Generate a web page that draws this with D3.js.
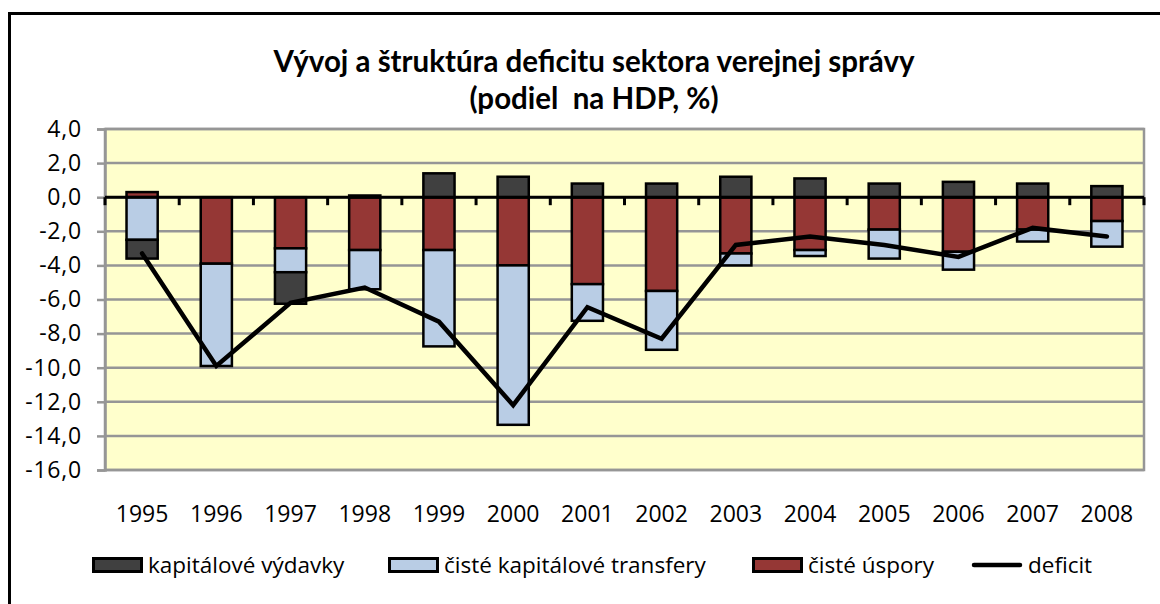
<!DOCTYPE html>
<html>
<head>
<meta charset="utf-8">
<script src="https://cdn.jsdelivr.net/npm/d3@7"></script>
<style>
  body { margin: 0; background: #fff; }
  svg { display: block; }
  text { font-family: "Open Sans", Lato, sans-serif; fill: #000; }
  .title { font-family: Lato, sans-serif; font-weight: bold; font-size: 29.5px; }
  .tick-label { font-size: 23px; }
  .legend-text { font-size: 22.5px; }
</style>
</head>
<body>
<div id="container"></div>
<script>
const years = ['1995','1996','1997','1998','1999','2000','2001','2002','2003','2004','2005','2006','2007','2008'];
const kapitaloveVydavky = [-1.1, 0.0, -1.85, 0.1, 1.4, 1.2, 0.8, 0.8, 1.2, 1.1, 0.8, 0.9, 0.8, 0.65];
const cisteTransfery = [-2.5, -6.0, -1.4, -2.3, -5.65, -9.35, -2.15, -3.45, -0.7, -0.35, -1.7, -1.05, -0.7, -1.5];
const cisteUspory = [0.3, -3.9, -3.0, -3.1, -3.1, -4.0, -5.1, -5.5, -3.3, -3.1, -1.9, -3.2, -1.9, -1.4];
const deficit = [-3.3, -9.9, -6.2, -5.3, -7.3, -12.2, -6.45, -8.3, -2.8, -2.3, -2.8, -3.5, -1.8, -2.3];
const yTicks = [4, 2, 0, -2, -4, -6, -8, -10, -12, -14, -16];

const seriesNames = {
  vydavky: 'kapitálové výdavky',
  transfery: 'čisté kapitálové transfery',
  uspory: 'čisté úspory',
  deficit: 'deficit'
};
const colors = { vydavky: '#404040', transfery: '#b9cde5', uspory: '#953735' };

const w = 1160;
const h = 604;
const plot = { left: 105, right: 1144, top: 129, bottom: 470 };

const svg = d3.select('#container').append('svg').attr('width', w).attr('height', h);

// outer frame (runs off the right/bottom edge like in the picture)
svg.append('rect')
  .attr('x', 9.5).attr('y', 13.5)
  .attr('width', w + 20).attr('height', h + 20)
  .attr('fill', '#fff').attr('stroke', '#000').attr('stroke-width', 3);

// table for d3.stack
const table = years.map((y, i) => ({
  year: y,
  uspory: cisteUspory[i],
  transfery: cisteTransfery[i],
  vydavky: kapitaloveVydavky[i]
}));

const stack = d3.stack()
  .keys(['uspory', 'transfery', 'vydavky'])
  .offset(d3.stackOffsetDiverging);
const stacked = stack(table);

const xScale = d3.scaleBand().domain(years).range([plot.left, plot.right]);
const yScale = d3.scaleLinear().domain([4, -16]).range([plot.top, plot.bottom]);
const barW = xScale.bandwidth() * 0.42;

const locale = d3.formatLocale({ decimal: ',', thousands: ' ', grouping: [3], currency: ['', ''], minus: '-' });
const fmt = locale.format('.1f');

// plot background
svg.append('rect')
  .attr('x', plot.left).attr('y', plot.top)
  .attr('width', plot.right - plot.left).attr('height', plot.bottom - plot.top)
  .attr('fill', '#ffffcc');

// gridlines
svg.append('g').selectAll('line')
  .data(yTicks)
  .enter().append('line')
    .attr('x1', plot.left).attr('x2', plot.right)
    .attr('y1', d => yScale(d)).attr('y2', d => yScale(d))
    .attr('stroke', '#969696').attr('stroke-width', 2.5);

// plot border
svg.append('rect')
  .attr('x', plot.left).attr('y', plot.top)
  .attr('width', plot.right - plot.left).attr('height', plot.bottom - plot.top)
  .attr('fill', 'none').attr('stroke', '#969696').attr('stroke-width', 2.5);

// y axis
const yAxis = d3.axisLeft(yScale).tickValues(yTicks).tickFormat(fmt).tickSize(8).tickPadding(15);
const yAxisGroup = svg.append('g').attr('transform', `translate(${plot.left}, 0)`).call(yAxis);
yAxisGroup.select('.domain').attr('stroke', '#969696').attr('stroke-width', 2.5);
yAxisGroup.selectAll('.tick line').attr('stroke', '#969696').attr('stroke-width', 2.5);
yAxisGroup.selectAll('.tick text')
  .attr('class', 'tick-label')
  .style('font-family', '"Open Sans", sans-serif').style('font-size', '23px')
  .style('letter-spacing', '0.8px')
  .attr('fill', '#000');

// bars
svg.append('g').selectAll('g')
  .data(stacked)
  .enter().append('g')
    .attr('fill', d => colors[d.key])
  .selectAll('rect')
  .data(d => d)
  .enter().append('rect')
    .attr('x', d => xScale(d.data.year) + (xScale.bandwidth() - barW) / 2)
    .attr('y', d => yScale(Math.max(d[0], d[1])))
    .attr('width', barW)
    .attr('height', d => Math.abs(yScale(d[0]) - yScale(d[1])))
    .attr('stroke', '#000').attr('stroke-width', 2.5);

// zero line with category ticks
svg.append('line')
  .attr('x1', plot.left).attr('x2', plot.right)
  .attr('y1', yScale(0)).attr('y2', yScale(0))
  .attr('stroke', '#000').attr('stroke-width', 3);
const boundaries = years.map(y => xScale(y)).concat([xScale.range()[1]]);
svg.append('g').selectAll('line')
  .data(boundaries)
  .enter().append('line')
    .attr('x1', d => d).attr('x2', d => d)
    .attr('y1', yScale(0)).attr('y2', yScale(0) + 8)
    .attr('stroke', '#000').attr('stroke-width', 3);

// category labels at bottom
svg.append('g').selectAll('text')
  .data(years)
  .enter().append('text')
    .attr('x', d => xScale(d) + xScale.bandwidth() / 2)
    .attr('y', 522)
    .attr('text-anchor', 'middle')
    .attr('class', 'tick-label')
    .text(d => d);

// deficit line
const line = d3.line()
  .x((d, i) => xScale(years[i]) + xScale.bandwidth() / 2)
  .y(d => yScale(d));
svg.append('path')
  .datum(deficit)
  .attr('d', line)
  .attr('fill', 'none')
  .attr('stroke', '#000')
  .attr('stroke-width', 4.5)
  .attr('stroke-linejoin', 'miter')
  .attr('stroke-linecap', 'round');

// title
svg.append('text')
  .attr('class', 'title')
  .attr('x', 594).attr('y', 72)
  .attr('text-anchor', 'middle')
  .text('Vývoj a štruktúra deficitu sektora verejnej správy');
svg.append('text')
  .attr('class', 'title')
  .attr('x', 594).attr('y', 109)
  .attr('text-anchor', 'middle')
  .attr('xml:space', 'preserve')
  .style('white-space', 'pre')
  .text('(podiel  na HDP, %)');

// legend
const legendItems = [
  { key: 'vydavky', x: 92 },
  { key: 'transfery', x: 388 },
  { key: 'uspory', x: 752 },
  { key: 'deficit', x: 972 }
];
const legendY = 565;
const legend = svg.append('g').attr('id', 'legend');
legendItems.forEach(item => {
  if (item.key === 'deficit') {
    legend.append('line')
      .attr('x1', item.x + 2).attr('x2', item.x + 48)
      .attr('y1', legendY).attr('y2', legendY)
      .attr('stroke', '#000').attr('stroke-width', 4.5)
      .attr('stroke-linecap', 'round');
  } else {
    legend.append('rect')
      .attr('x', item.x + 1.5).attr('y', legendY - 6.5)
      .attr('width', 48).attr('height', 13)
      .attr('fill', colors[item.key])
      .attr('stroke', '#000').attr('stroke-width', 3);
  }
  legend.append('text')
    .attr('class', 'legend-text')
    .attr('x', item.x + 56).attr('y', legendY + 8)
    .text(seriesNames[item.key]);
});
</script>
</body>
</html>
